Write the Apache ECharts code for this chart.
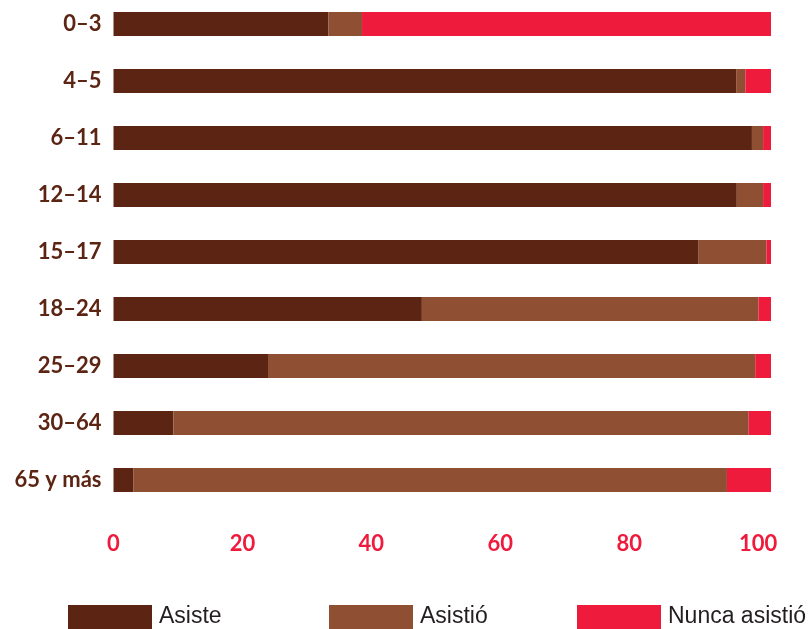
<!DOCTYPE html>
<html>
<head>
<meta charset="utf-8">
<script src="https://cdn.jsdelivr.net/npm/echarts@6/dist/echarts.min.js"></script>
<style>html,body{margin:0;padding:0;background:#fff;}#c{width:808px;height:629px;}</style>
</head>
<body>
<div id="c"></div>
<script>
const categories = ['0–3', '4–5', '6–11', '12–14', '15–17', '18–24', '25–29', '30–64', '65 y más'];
const seriesNames = ['Asiste', 'Asistió', 'Nunca asistió'];
const asiste      = [32.7, 94.7, 97.1, 94.8, 89.0, 46.9, 23.5,  9.1,  3.0];
const asistio     = [ 5.1,  1.4,  1.7,  4.0, 10.3, 51.2, 74.1, 87.5, 90.3];
const nuncaAsistio= [62.2,  3.9,  1.2,  1.2,  0.7,  1.9,  2.4,  3.4,  6.7];
const tickLabels = [0, 20, 40, 60, 80, 100];

const colors = ['#5c2413', '#8e4f33', '#ef1b3d'];
const chart = echarts.init(document.getElementById('c'), null, {renderer: 'canvas'});
const labelFont = "Lato, 'Liberation Sans', sans-serif";
const option = {
  animation: false,
  color: colors,
  grid: {left: 113.5, right: 37, top: -4.5, height: 513, outerBoundsMode: 'none', containLabel: false},
  xAxis: [
    {type: 'value', min: 0, max: 100, show: false},
    {type: 'value', min: 0, max: 102, interval: 20, position: 'bottom',
     axisLine: {show: false}, axisTick: {show: false}, splitLine: {show: false},
     axisLabel: {show: true, showMaxLabel: false, margin: 24, color: '#ef1b3d', fontSize: 22,
       fontWeight: 'bold', fontFamily: labelFont,
       formatter: v => tickLabels.includes(v) ? String(v) : ''}}
  ],
  yAxis: {type: 'category', data: categories, inverse: true,
    axisLine: {show: false}, axisTick: {show: false}, splitLine: {show: false},
    axisLabel: {margin: 12, color: '#5c2413', fontSize: 22, fontWeight: 'bold', fontFamily: labelFont}},
  legend: [0, 1, 2].map((i) => ({
    data: [seriesNames[i]], left: [68, 329, 577][i], top: 599, padding: 0,
    itemWidth: 84, itemHeight: 24, icon: 'rect', itemGap: 0,
    textStyle: {fontSize: 23, color: '#231f20', fontFamily: "'Liberation Sans', Arial, sans-serif",
      lineHeight: 30, padding: [6, 0, 0, 2]}
  })),
  series: [asiste, asistio, nuncaAsistio].map((d, i) => ({
    name: seriesNames[i], type: 'bar', stack: 'total', xAxisIndex: 0,
    barWidth: 24, data: d, itemStyle: {color: colors[i]}
  }))
};
chart.setOption(option);
</script>
</body>
</html>
